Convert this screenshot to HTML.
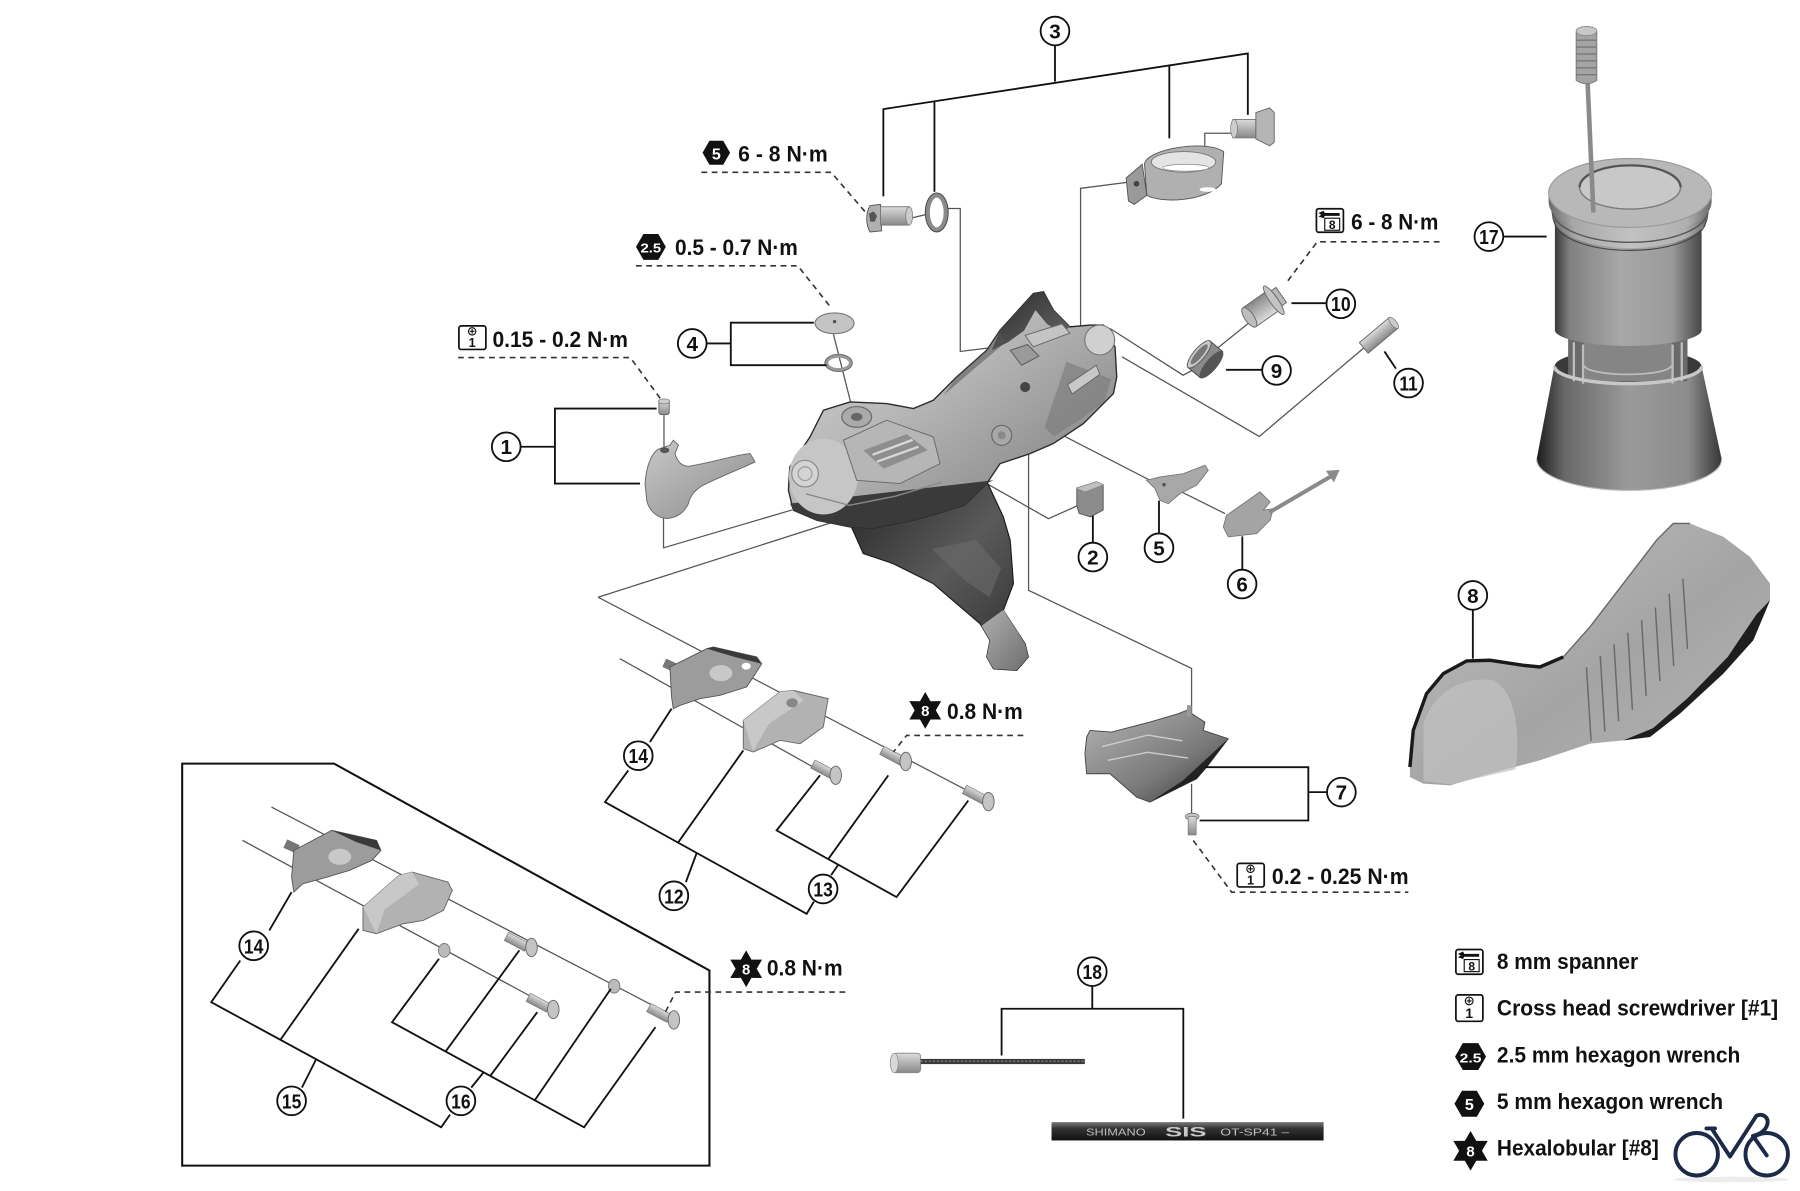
<!DOCTYPE html>
<html><head><meta charset="utf-8"><style>
html,body{margin:0;padding:0;background:#fff;}
svg{display:block;}
.t{font-family:"Liberation Sans",Arial,sans-serif;font-weight:bold;fill:#111;font-size:19px;}
.c circle{fill:#fff;stroke:#111;stroke-width:1.6;}
.c text{font-family:"Liberation Sans",Arial,sans-serif;font-weight:bold;font-size:18px;text-anchor:middle;fill:#111;}
.b{fill:none;stroke:#111;stroke-width:1.6;}
.a{fill:none;stroke:#555;stroke-width:1.1;}
.d{fill:none;stroke:#333;stroke-width:1.4;stroke-dasharray:5 4;}
</style></head><body>
<svg width="1800" height="1191" viewBox="0 0 1568 1037" preserveAspectRatio="none" xmlns="http://www.w3.org/2000/svg">
<defs>
<linearGradient id="gBody" x1="0" y1="0" x2="1" y2="1"><stop offset="0" stop-color="#d8d8d8"/><stop offset=".45" stop-color="#b4b4b4"/><stop offset="1" stop-color="#767676"/></linearGradient>
<linearGradient id="gLever" x1="0" y1="0" x2="1" y2="1"><stop offset="0" stop-color="#262626"/><stop offset=".5" stop-color="#5a5a5a"/><stop offset="1" stop-color="#2c2c2c"/></linearGradient>
<linearGradient id="gTip" x1="0" y1="0" x2="1" y2="1"><stop offset="0" stop-color="#b0b0b0"/><stop offset="1" stop-color="#6e6e6e"/></linearGradient>
<linearGradient id="gMetal" x1="0" y1="0" x2="0" y2="1"><stop offset="0" stop-color="#dcdcdc"/><stop offset="1" stop-color="#888"/></linearGradient>
<linearGradient id="gCyl" x1="0" y1="0" x2="1" y2="0"><stop offset="0" stop-color="#383838"/><stop offset=".1" stop-color="#808080"/><stop offset=".45" stop-color="#a8a8a8"/><stop offset=".8" stop-color="#9a9a9a"/><stop offset="1" stop-color="#464646"/></linearGradient>
<linearGradient id="gCylL" x1="0" y1="0" x2="1" y2="0"><stop offset="0" stop-color="#6a6a6a"/><stop offset=".15" stop-color="#a8a8a8"/><stop offset=".5" stop-color="#c2c2c2"/><stop offset=".85" stop-color="#b0b0b0"/><stop offset="1" stop-color="#6a6a6a"/></linearGradient>
<linearGradient id="gCone" x1="0" y1="0" x2="1" y2="0"><stop offset="0" stop-color="#1c1c1c"/><stop offset=".15" stop-color="#686868"/><stop offset=".5" stop-color="#9a9a9a"/><stop offset=".82" stop-color="#8c8c8c"/><stop offset="1" stop-color="#363636"/></linearGradient>
<linearGradient id="gHood" x1="0" y1="0" x2="1" y2="1"><stop offset="0" stop-color="#6a6a6a"/><stop offset=".25" stop-color="#b4b4b4"/><stop offset=".55" stop-color="#a4a4a4"/><stop offset="1" stop-color="#b6b6b6"/></linearGradient>
<linearGradient id="gHood1" x1="0" y1="0" x2="1" y2="1"><stop offset="0" stop-color="#c8c8c8"/><stop offset="1" stop-color="#8a8a8a"/></linearGradient>
<linearGradient id="gHous" x1="0" y1="0" x2="0" y2="1"><stop offset="0" stop-color="#7a7a7a"/><stop offset=".35" stop-color="#333"/><stop offset="1" stop-color="#111"/></linearGradient>
<linearGradient id="gP7" x1="0" y1="0" x2="1" y2="1"><stop offset="0" stop-color="#b4b4b4"/><stop offset=".6" stop-color="#7a7a7a"/><stop offset="1" stop-color="#333"/></linearGradient>
<linearGradient id="gHorn" x1="0" y1="0" x2="1" y2="1"><stop offset="0" stop-color="#2a2a2a"/><stop offset="1" stop-color="#6a6a6a"/></linearGradient>
</defs>

<!-- ============ assembly thin lines ============ -->
<g class="a">
<path d="M578.4,361.5 L578.4,392"/>
<path d="M578,451 L578,477 L690,444"/>
<path d="M726,291 L745,366"/>
<path d="M521,520 L859,412"/>
<path d="M772,367 L858,411"/>
<path d="M521,520 L842,688"/>
<path d="M540,573.5 L708.5,668"/>
<path d="M793,190 L806,187"/>
<path d="M826,181.5 L836.5,181.5 L836.5,306 L869,302"/>
<path d="M987.7,158 L941.3,164 L941.3,286"/>
<path d="M1073,116 L1049.5,116 L1049.5,148"/>
<path d="M859.5,421 L913.3,451.6 L939.4,440"/>
<path d="M903,367.4 L1001.8,418.2"/>
<path d="M1029.3,428.3 L1067.1,447.2"/>
<path d="M896,396 L896,514 L1038,582 L1038,626"/>
<path d="M1038,682.5 L1038,708.5"/>
<path d="M967,286 L1030.6,326.7 L1044.4,319.4"/>
<path d="M1060,303.5 L1090.8,278.8"/>
<path d="M977.4,310.7 L1097,380 L1188,303"/>
<path d="M236.5,702.7 L582.6,882.7"/>
<path d="M211.2,731.7 L479.6,876.9"/>
</g>

<!-- ============ main body ============ -->
<path d="M740,455 L800,445 L860,420 L874,450 L880,470.5 L882.8,508.2 L874,531.4 L893,560.5 L895.8,572 L885.7,583.7 L865.4,582.3 L859.5,572 L862.4,557.6 L853.7,543 L813,508.2 L778.2,490.8 L752,482 Z" fill="url(#gLever)" stroke="#1a1a1a" stroke-width="1"/>
<path d="M812,478 L850,470 L872,495 L862,520 L840,505 Z" fill="#6a6a6a" opacity=".6"/>
<path d="M855,545 L874,531 L893,560.5 L895.8,572 L885.7,583.7 L865.4,582.3 L859.5,572 L862.4,557.6 Z" fill="url(#gTip)"/>
<path d="M688,406.6 L705.6,380.4 L717.3,357.2 L740.5,350 L772.4,351.4 L795.7,355.7 L813,348.5 L833.4,328.2 L859.5,305 L871.2,287.5 L900.2,255.6 L909,254 L917.6,270 L932,284.6 L949.6,283 L961.2,283 L971.3,302 L972.8,328.2 L969.9,342.7 L943.8,368.8 L917.6,386.2 L897.3,395 L871.2,403.7 L859.5,421 L840,440 L800,452 L760,460 L740.5,458.8 L711.5,453 L691.1,444.3 L686.8,427 Z" fill="url(#gBody)" stroke="#2a2a2a" stroke-width="1.2"/>
<path d="M871.2,287.5 L900.2,255.6 L909,254 L917.6,270 L932,284.6 L924,290 L912,282 L902,270 L892,288 L878,298 L864,305 Z" fill="url(#gHorn)"/>
<path d="M833.4,328.2 L859.5,305 L871.2,287.5 L876,298 L850,320 L822,344 Z" fill="#555" opacity=".55"/>
<ellipse cx="958" cy="296" rx="13" ry="13" fill="#d0d0d0" stroke="#777" stroke-width="1"/>
<path d="M929,315 L968,330 L962,350 L940,366 L918,380 L910,372 Z" fill="#7a7a7a" opacity=".6"/>
<path d="M930,335 L955,318 L958,326 L934,343 Z" fill="#c8c8c8" stroke="#666" stroke-width=".8"/>
<circle cx="893" cy="337" r="4.4" fill="#444"/>
<circle cx="872.6" cy="379" r="8.7" fill="#a8a8a8" stroke="#666" stroke-width="1"/>
<circle cx="872.6" cy="379" r="3.5" fill="#888"/>
<path d="M880,305 L895,300 L905,310 L890,318 Z" fill="#9a9a9a" stroke="#555" stroke-width=".8"/>
<path d="M893,292 L925,282 L932,290 L900,302 Z" fill="#c4c4c4" stroke="#666" stroke-width=".8"/>
<path d="M688.2,438.5 L865.4,418.2 L859.5,421 L840,440 L800,452 L760,460 L740.5,458.8 L711.5,453 L691.1,444.3 Z" fill="#3a3a3a"/>
<ellipse cx="717.3" cy="415" rx="30" ry="33" fill="#c6c6c6"/>
<circle cx="701.3" cy="412.4" r="11.6" fill="#d4d4d4" stroke="#888" stroke-width="1"/>
<circle cx="701.3" cy="412.4" r="6" fill="none" stroke="#999" stroke-width="1"/>
<path d="M734.7,383.3 L772.4,365.9 L813,380.4 L818.9,403.7 L784,421 L746.3,418.2 Z" fill="#b6b6b6" stroke="#666" stroke-width=".8"/>
<path d="M752,392 L790,378 L808,392 L770,408 Z" fill="#8e8e8e"/>
<path d="M760,396 L795,383 M764,402 L800,389" stroke="#d8d8d8" stroke-width="2"/>
<ellipse cx="746.3" cy="363" rx="13" ry="9" fill="#aaa" stroke="#666" stroke-width="1"/>
<ellipse cx="746.3" cy="363" rx="5" ry="3.5" fill="#666"/>
<path d="M702,430 L740,440 L780,432 L820,420" fill="none" stroke="#888" stroke-width="1.2"/>

<!-- ============ part 1 ============ -->
<rect x="574" y="349" width="9" height="12" rx="2" fill="url(#gMetal)" stroke="#666" stroke-width=".8"/>
<ellipse cx="578.5" cy="349.5" rx="5" ry="2.2" fill="#ccc" stroke="#777" stroke-width=".6"/>
<path d="M561.9,421 C563,405 568,393 575,390.6 L583.7,387.6 L586.6,383.3 L591,387.6 L588,395 C590,402 594,406 600,406 C620,403 640,396 653.4,394.9 L657.7,402.2 C650,406 630,414 615.6,421 C606,425 601,432 599.7,438.5 C596,446 590,451 580.8,451.5 C572,451 565,444 563.4,435.6 Z" fill="url(#gHood1)" stroke="#666" stroke-width=".8"/>
<ellipse cx="579" cy="392" rx="4" ry="2.5" fill="#555"/>

<!-- ============ part 4 ============ -->
<ellipse cx="727" cy="281.5" rx="17" ry="9" fill="#c4c4c4" stroke="#777" stroke-width="1"/>
<circle cx="727" cy="280" r="1.5" fill="#555"/>
<ellipse cx="730.5" cy="316" rx="10.5" ry="6" fill="none" stroke="#999" stroke-width="3"/>
<ellipse cx="730.5" cy="316" rx="12" ry="7.5" fill="none" stroke="#666" stroke-width=".8"/>

<!-- ============ part 3 ============ -->
<path d="M758,179 L767,178 L768,201 L758,202 C754,196 754,185 758,179 Z" fill="#b0b0b0" stroke="#555" stroke-width=".8"/>
<polygon points="757,186 761,184 764,188 762,193 758,193" fill="#555"/>
<rect x="767" y="180" width="25" height="16" fill="url(#gMetal)" stroke="#777" stroke-width=".8"/>
<ellipse cx="792" cy="188" rx="3" ry="8" fill="#ccc" stroke="#777" stroke-width=".6"/>
<ellipse cx="816" cy="185" rx="8" ry="15" fill="none" stroke="#8a8a8a" stroke-width="4"/>
<ellipse cx="816" cy="185" rx="10" ry="17" fill="none" stroke="#444" stroke-width=".8"/>
<path d="M997,143 C998,130 1050,121 1066,132 L1064,160 C1050,176 1010,177 999,170 Z" fill="#b0b0b0" stroke="#555" stroke-width=".8"/>
<ellipse cx="1031" cy="141" rx="28" ry="9" fill="#e4e4e4" stroke="#777" stroke-width=".8"/>
<ellipse cx="1033" cy="146" rx="20" ry="3" fill="#fff" stroke="#888" stroke-width=".6"/>
<ellipse cx="1052" cy="165" rx="7" ry="2" fill="#fff"/>
<path d="M981,155 L995,143 L999,170 L988,178 L983,175 Z" fill="#9a9a9a" stroke="#555" stroke-width=".8"/>
<circle cx="990" cy="160" r="2.5" fill="#444"/>
<rect x="1074" y="104" width="20" height="16" fill="url(#gMetal)" stroke="#777" stroke-width=".8"/>
<ellipse cx="1075" cy="112" rx="3" ry="8" fill="#ccc" stroke="#777" stroke-width=".6"/>
<path d="M1094,98 L1106,94 L1110,98 L1110,124 L1106,127 L1094,121 Z" fill="#b5b5b5" stroke="#666" stroke-width=".8"/>

<!-- ============ parts 9,10,11 ============ -->
<g transform="translate(1103,266) rotate(145)">
<rect x="-8" y="-10" width="26" height="20" fill="url(#gMetal)" stroke="#666" stroke-width=".8"/>
<ellipse cx="18" cy="0" rx="4" ry="10" fill="#bdbdbd" stroke="#666" stroke-width=".8"/>
<rect x="-16" y="-8" width="8" height="16" fill="#b8b8b8" stroke="#666" stroke-width=".8"/>
<ellipse cx="-8" cy="0" rx="3.5" ry="15" fill="#c4c4c4" stroke="#666" stroke-width=".8"/>
</g>
<g transform="translate(1050,313) rotate(40)">
<rect x="-7" y="-15" width="14" height="30" fill="#8a8a8a" stroke="#444" stroke-width=".8"/>
<ellipse cx="-7" cy="0" rx="5" ry="15" fill="#c8c8c8" stroke="#555" stroke-width=".8"/>
<ellipse cx="-7" cy="0" rx="3" ry="11" fill="#777"/>
<ellipse cx="7" cy="0" rx="5" ry="15" fill="#555"/>
</g>
<g transform="translate(1201,292) rotate(-40)">
<rect x="-17" y="-6" width="34" height="12" fill="url(#gMetal)" stroke="#666" stroke-width=".8"/>
<ellipse cx="17" cy="0" rx="2.5" ry="6" fill="#ccc" stroke="#777" stroke-width=".6"/>
</g>

<!-- ============ parts 2,5,6 ============ -->
<path d="M938,425 L955,419.6 L961,422 L961,444 L950,450 L940,447 L938,440 Z" fill="#8c8c8c" stroke="#555" stroke-width=".8"/>
<path d="M938,425 L955,419.6 L961,422 L945,428 Z" fill="#c0c0c0"/>
<polygon points="998.8,418.2 1010.4,415.3 1030.8,412.4 1049.6,405.1 1052.5,409.5 1042.4,422.5 1027.9,429.8 1017.7,438.5 1010.4,435.6 1006.1,425.4" fill="#a8a8a8" stroke="#777" stroke-width=".8"/>
<circle cx="1014" cy="422" r="1.6" fill="#555"/>
<polygon points="1068.5,448.7 1097.6,428.3 1106.3,437 1100.5,444.3 1109.2,442.9 1106.3,453 1094.7,464.6 1070,467.5 1065.6,458.8" fill="#a4a4a4" stroke="#777" stroke-width=".8"/>
<line x1="1106" y1="446" x2="1159" y2="415" stroke="#8a8a8a" stroke-width="3.5"/>
<polygon points="1155,410 1167,409 1162,420" fill="#8a8a8a"/>

<!-- ============ part 7 ============ -->
<polygon points="946.6,641.8 949.5,636 968.3,637.4 1001.7,628.7 1026.4,621.4 1033.7,618.5 1049.6,628.7 1048.2,636 1070,643.2 1051.1,668 1042.4,678.1 1016.3,691.1 1001.7,698.4 990.1,694 966.9,673.7 946.6,673.7 945.1,656.3" fill="url(#gP7)" stroke="#444" stroke-width=".8"/>
<path d="M1070,643.2 L1051.1,668 L1042.4,678.1 L1016.3,691.1 L1001.7,698.4 L1030,680 Z" fill="#222"/>
<path d="M960,650 L1000,640 L1030,645 M965,662 L1000,655 L1035,660" stroke="#ccc" stroke-width="1.2" fill="none"/>
<rect x="1034" y="614" width="4" height="10" fill="#999"/>
<ellipse cx="1038.5" cy="711" rx="6" ry="3" fill="#c4c4c4" stroke="#666" stroke-width=".6"/>
<rect x="1035" y="711" width="7" height="16" fill="url(#gMetal)" stroke="#777" stroke-width=".6"/>

<!-- ============ part 17 ============ -->
<path d="M1354,319 L1338.6,400 A80.6,27 0 0 0 1499.8,400 L1482.3,319 Z" fill="url(#gCone)"/>
<path d="M1338.6,400 A80.6,27 0 0 0 1499.8,400" fill="none" stroke="#bbb" stroke-width="1"/>
<ellipse cx="1418.2" cy="319" rx="64" ry="15" fill="#3a3a3a"/>
<rect x="1366" y="290" width="104" height="42" fill="#6a6a6a"/>
<rect x="1380" y="294" width="76" height="38" fill="#858585"/>
<path d="M1380,318 A38,8 0 0 0 1456,318" fill="none" stroke="#bdbdbd" stroke-width="1.5"/>
<path d="M1371,298 L1371,332 M1379,300 L1379,334 M1457,300 L1457,334 M1465,298 L1465,332" stroke="#bdbdbd" stroke-width="2"/>
<path d="M1354.2,319 A64,15 0 0 0 1482.3,319" fill="none" stroke="#c8c8c8" stroke-width="3"/>
<path d="M1354.5,190 L1354.5,288 A64,14 0 0 0 1482.3,288 L1482.3,190 Z" fill="url(#gCyl)"/>
<path d="M1352,178 L1352,188 A68,28 0 0 0 1488,188 L1488,178 Z" fill="url(#gCylL)"/>
<path d="M1352,183 A68,28 0 0 0 1488,183" fill="none" stroke="#555" stroke-width="1.2"/>
<path d="M1354,192 A66,26 0 0 0 1486,192" fill="none" stroke="#444" stroke-width="1"/>
<path d="M1349,168 L1349,176 A71,30 0 0 0 1491,176 L1491,168 Z" fill="url(#gCylL)"/>
<ellipse cx="1420" cy="168" rx="71" ry="30" fill="#b8b8b8" stroke="#9a9a9a" stroke-width="1"/>
<ellipse cx="1420" cy="163" rx="44" ry="19" fill="#c8c8c8" stroke="#7a7a7a" stroke-width="1.2"/>
<path d="M1376,163 A44,19 0 0 1 1464,163" fill="none" stroke="#555" stroke-width="2"/>
<line x1="1383" y1="72" x2="1388" y2="185" stroke="#8a8a8a" stroke-width="4"/>
<path d="M1373,28 L1373,70 Q1382,76 1391,70 L1391,28 Z" fill="#a4a4a4" stroke="#777" stroke-width=".8"/>
<path d="M1373,35 H1391 M1373,41 H1391 M1373,47 H1391 M1373,53 H1391 M1373,59 H1391 M1373,65 H1391" stroke="#787878" stroke-width="1.2"/>
<ellipse cx="1382" cy="27" rx="9" ry="4" fill="#c8c8c8" stroke="#888" stroke-width=".8"/>

<!-- ============ part 8 ============ -->
<path d="M1228.2,667.8 L1231.1,635.9 L1242.7,603.9 L1257.3,586.5 L1277.6,575.5 L1297.9,574.9 L1327,579.3 L1341.5,580.7 L1361.8,572 L1385,545.9 L1414.1,508.1 L1443.1,470.3 L1457.6,455.8 L1472.2,455.8 L1501.2,467.4 L1524.4,484.9 L1541.9,508.1 L1541.9,522.6 L1527.3,557.5 L1501.2,586.5 L1463.4,621.4 L1437.3,641.7 L1414.1,644.6 L1385,647.5 L1341.5,662 L1297.9,673.6 L1263.1,683.8 L1239.8,682.3 L1228.2,676.5 Z" fill="url(#gHood)"/>
<path d="M1541.9,522.6 L1527.3,557.5 L1501.2,586.5 L1463.4,621.4 L1437.3,641.7 L1414.1,644.6 L1440,634 L1470,608 L1505,572 L1530,535 Z" fill="#1e1e1e"/>
<path d="M1228.2,667.8 L1231.1,635.9 L1242.7,603.9 L1257.3,586.5 L1277.6,575.5 L1297.9,574.9 L1327,579.3 L1341.5,580.7 L1361.8,572" fill="none" stroke="#1a1a1a" stroke-width="3"/>
<path d="M1361.8,572 L1385,545.9 L1414.1,508.1 L1443.1,470.3 L1457.6,455.8 L1472.2,455.8" fill="none" stroke="#666" stroke-width="1.2"/>
<path d="M1240,630 C1250,600 1275,590 1300,592 C1320,600 1325,640 1320,670 L1263,683 L1240,680 Z" fill="#c2c2c2" opacity=".7"/>
<g stroke="#6a6a6a" stroke-width="1.3" fill="none">
<path d="M1382,581 L1386,645"/><path d="M1394,571 L1398,637"/><path d="M1406,561 L1410,628"/><path d="M1418,551 L1422,618"/><path d="M1430,540 L1434,606"/><path d="M1442,529 L1446,593"/><path d="M1454,517 L1458,580"/><path d="M1466,504 L1470,565"/>
</g>

<!-- ============ parts 12,13,14 (upper) ============ -->
<rect x="578" y="576" width="14" height="8" fill="#777" transform="rotate(25 585 580)"/>
<polygon points="583.6,580.8 615.6,564.8 621.4,563.3 659.1,572 663.5,577.9 656.2,589.5 650.4,598.2 627.2,605.4 609.7,608.3 592.3,614.2 586.5,617 585,606.9" fill="#9c9c9c" stroke="#555" stroke-width=".8"/>
<polygon points="615.6,564.8 621.4,563.3 659.1,572 663.5,577.9 640,572" fill="#3a3a3a"/>
<ellipse cx="628" cy="586" rx="10" ry="7" fill="#c8c8c8"/>
<ellipse cx="650" cy="580" rx="4" ry="3" fill="#fff"/>
<polygon points="647.5,627.2 679.4,602.5 691.1,601.1 721.5,608.3 720.1,615.6 717.2,633 696.9,647.6 679.4,644.6 656.2,654.8 647.5,651.9" fill="#b2b2b2" stroke="#666" stroke-width=".8"/>
<polygon points="647.5,627.2 679.4,602.5 691.1,601.1 700,610 670,630 656,654" fill="#c8c8c8"/>
<ellipse cx="690" cy="612" rx="5" ry="4" fill="#888"/>
<g>
<rect x="707" y="666" width="20" height="8" fill="url(#gMetal)" stroke="#777" stroke-width=".6" transform="rotate(28 717 670)"/>
<ellipse cx="728" cy="675" rx="5" ry="8" fill="#c4c4c4" stroke="#666" stroke-width=".8"/>
<rect x="767" y="654" width="20" height="8" fill="url(#gMetal)" stroke="#777" stroke-width=".6" transform="rotate(28 777 658)"/>
<ellipse cx="789" cy="663" rx="5" ry="8" fill="#c4c4c4" stroke="#666" stroke-width=".8"/>
<rect x="839" y="688" width="20" height="8" fill="url(#gMetal)" stroke="#777" stroke-width=".6" transform="rotate(28 849 692)"/>
<ellipse cx="861" cy="698" rx="5" ry="8" fill="#c4c4c4" stroke="#666" stroke-width=".8"/>
</g>

<!-- ============ box group ============ -->
<path d="M158.7,664.9 L291,664.9 L618,845 L618,1014.9 L158.7,1014.9 Z" fill="none" stroke="#111" stroke-width="1.8"/>
<rect x="248" y="733" width="12" height="8" fill="#777" transform="rotate(25 254 737)"/>
<polygon points="256,740.4 289,723 328,731.7 331.8,740.4 324,749.1 304.6,757.8 285.1,763.7 263.7,769.5 256,776.7 254,763.7" fill="#9c9c9c" stroke="#555" stroke-width=".8"/>
<polygon points="289,723 328,731.7 331.8,740.4 310,733" fill="#3a3a3a"/>
<ellipse cx="296" cy="746" rx="10" ry="7" fill="#c8c8c8"/>
<polygon points="316.2,789.8 347.4,762.2 359,759.3 390.1,768 394,775.3 386.3,792.7 368.7,801.4 351.3,804.3 327.9,813 316.2,810.1" fill="#b2b2b2" stroke="#666" stroke-width=".8"/>
<polygon points="316.2,789.8 347.4,762.2 359,759.3 365,770 335,792 327.9,813" fill="#c8c8c8"/>
<ellipse cx="387" cy="827.5" rx="5" ry="6" fill="#bbb" stroke="#777" stroke-width=".8"/>
<ellipse cx="535" cy="858.7" rx="5" ry="6" fill="#bbb" stroke="#777" stroke-width=".8"/>
<rect x="440" y="816" width="20" height="8" fill="url(#gMetal)" stroke="#777" stroke-width=".6" transform="rotate(28 450 820)"/>
<ellipse cx="463" cy="825" rx="5" ry="8" fill="#c4c4c4" stroke="#666" stroke-width=".8"/>
<rect x="459" y="869" width="20" height="8" fill="url(#gMetal)" stroke="#777" stroke-width=".6" transform="rotate(28 469 873)"/>
<ellipse cx="482" cy="879" rx="5" ry="8" fill="#c4c4c4" stroke="#666" stroke-width=".8"/>
<rect x="564" y="878" width="20" height="8" fill="url(#gMetal)" stroke="#777" stroke-width=".6" transform="rotate(28 574 882)"/>
<ellipse cx="587" cy="888" rx="5" ry="8" fill="#c4c4c4" stroke="#666" stroke-width=".8"/>

<!-- ============ part 18 ============ -->
<rect x="778" y="917" width="24" height="17" rx="3" fill="url(#gMetal)" stroke="#888" stroke-width=".8"/>
<ellipse cx="779" cy="925.5" rx="3.5" ry="8.5" fill="#d8d8d8" stroke="#888" stroke-width=".6"/>
<rect x="802" y="922" width="143" height="4.5" fill="#3a3a3a"/>
<line x1="802" y1="924" x2="945" y2="924" stroke="#888" stroke-width="1" stroke-dasharray="2 1.5"/>
<rect x="916" y="977" width="237" height="16" fill="url(#gHous)"/>
<text x="946" y="988.5" font-family="Liberation Sans, Arial, sans-serif" font-size="9" fill="#bdbdbd" textLength="52" lengthAdjust="spacingAndGlyphs">SHIMANO</text>
<text x="1015" y="989.5" font-family="Liberation Sans, Arial, sans-serif" font-weight="bold" font-size="12" fill="#c8c8c8" textLength="36" lengthAdjust="spacingAndGlyphs">SIS</text>
<text x="1063" y="988.5" font-family="Liberation Sans, Arial, sans-serif" font-size="9" fill="#bdbdbd" textLength="60" lengthAdjust="spacingAndGlyphs">OT-SP41 –</text>

<!-- ============ brackets ============ -->
<g class="b">
<path d="M919,39.5 L919,71"/>
<path d="M769.5,171 L769.5,95 L1087,46.5 L1087,100"/>
<path d="M814,88.2 L814,167"/>
<path d="M1018.6,57 L1018.6,120.5"/>
<path d="M615.5,299 L636.6,299"/>
<path d="M709,281 L636.6,281 L636.6,318 L720,318"/>
<path d="M453.5,389 L483.4,389"/>
<path d="M572,355.7 L483.4,355.7 L483.4,421 L557.5,421"/>
<path d="M952,449 L952,472.5"/>
<path d="M1009.6,436 L1009.6,464.5"/>
<path d="M1082.2,467 L1082.2,496"/>
<path d="M1283,531 L1283,573.5"/>
<path d="M1049.6,668 L1139.7,668 L1139.7,714.4 L1045,714.4"/>
<path d="M1139.7,689.7 L1155.5,689.7"/>
<path d="M1068,322 L1099.5,322"/>
<path d="M1125,264 L1155.5,264"/>
<path d="M1206,306 L1216,321"/>
<path d="M1309.5,206 L1347.3,206"/>
<path d="M951.5,858.5 L951.5,878.3"/>
<path d="M872.5,919 L872.5,878.3 L1030.8,878.3 L1030.8,974"/>
<path d="M566.2,646.1 L585,617"/>
<path d="M547.3,670.8 L527,698.4 L702.7,795.7 L709,785"/>
<path d="M590.9,733.3 L647.5,653.4"/>
<path d="M606.9,742.7 L597.5,768"/>
<path d="M714.3,675.1 L676.5,723 L781,781.1 L843.5,697"/>
<path d="M721.5,748 L773.8,675.1"/>
<path d="M730.3,752.8 L724,762"/>
<path d="M234.6,810.1 L254,776.7"/>
<path d="M209.3,836.3 L184,872.6 L384.3,981.5 L392,970.5"/>
<path d="M244.3,905.3 L312.4,808.7"/>
<path d="M275.4,922.3 L263,947"/>
<path d="M382.4,834.8 L341.5,890 L508.8,981.5 L571,894.3"/>
<path d="M388.2,915.5 L452.4,827.5"/>
<path d="M427.1,936.8 L468,881.3"/>
<path d="M466,957.8 L532.1,861"/>
<path d="M421.3,933.6 L410.5,947"/>
</g>

<!-- ============ dashed leaders ============ -->
<g class="d">
<path d="M611,150 L724,150 L755,186"/>
<path d="M554,231.4 L695,231.4 L724,268"/>
<path d="M399,311.3 L549,311.3 L576,348"/>
<path d="M1254,210.5 L1147.5,210.5 L1120,247"/>
<path d="M891.4,640.3 L789.8,640.3 L778.2,654.8"/>
<path d="M736.3,863.8 L588.5,863.8 L578.8,882.7"/>
<path d="M1039.5,731.8 L1072.9,776.8 L1226.8,776.8"/>
</g>

<!-- ============ torque labels ============ -->
<polygon points="612,133 618,122.6 630,122.6 636,133 630,143.4 618,143.4" fill="#111"/>
<text x="624" y="139" text-anchor="middle" font-family="Liberation Sans, Arial, sans-serif" font-weight="bold" font-size="14" fill="#fff">5</text>
<text class="t" x="643" y="140.5" textLength="78" lengthAdjust="spacingAndGlyphs">6 - 8 N·m</text>

<polygon points="554,215 560.5,203.7 573.5,203.7 580,215 573.5,226.3 560.5,226.3" fill="#111"/>
<text x="567" y="220" text-anchor="middle" font-family="Liberation Sans, Arial, sans-serif" font-weight="bold" font-size="11" fill="#fff" textLength="18" lengthAdjust="spacingAndGlyphs">2.5</text>
<text class="t" x="588" y="222" textLength="107" lengthAdjust="spacingAndGlyphs">0.5 - 0.7 N·m</text>

<g transform="translate(399,283)">
<rect x=".75" y=".75" width="23.5" height="20.5" rx="2" fill="#fff" stroke="#111" stroke-width="1.5"/>
<circle cx="12.3" cy="5.5" r="3.2" fill="none" stroke="#111" stroke-width="1"/>
<path d="M12.3,3.4 V7.6 M10.2,5.5 H14.4" stroke="#111" stroke-width="1"/>
<text x="12.3" y="19" text-anchor="middle" font-family="Liberation Sans, Arial, sans-serif" font-weight="bold" font-size="11" fill="#111">1</text>
</g>
<text class="t" x="429" y="302" textLength="118" lengthAdjust="spacingAndGlyphs">0.15 - 0.2 N·m</text>

<g transform="translate(1146,181)">
<rect x=".75" y=".75" width="23.5" height="20.5" rx="2" fill="#fff" stroke="#111" stroke-width="1.5"/>
<path d="M2.5,4.5 L7,2.5 L8,4.5 L21,4.5 L21,7 L8,7 L7,9 L2.5,7.5 L5,6 Z" fill="#111"/>
<rect x="8" y="9" width="13" height="10.5" fill="none" stroke="#111" stroke-width="1"/>
<text x="14.5" y="18.5" text-anchor="middle" font-family="Liberation Sans, Arial, sans-serif" font-weight="bold" font-size="10.5" fill="#111">8</text>
</g>
<text class="t" x="1177" y="200" textLength="76" lengthAdjust="spacingAndGlyphs">6 - 8 N·m</text>

<polygon transform="translate(806,618.5)" points="0,-16 4.6,-7.97 13.86,-8 9.2,0 13.86,8 4.6,7.97 0,16 -4.6,7.97 -13.86,8 -9.2,0 -13.86,-8 -4.6,-7.97" fill="#111"/>
<text x="806" y="623.5" text-anchor="middle" font-family="Liberation Sans, Arial, sans-serif" font-weight="bold" font-size="13" fill="#fff">8</text>
<text class="t" x="825" y="626" textLength="66" lengthAdjust="spacingAndGlyphs">0.8 N·m</text>

<polygon transform="translate(650,843.5)" points="0,-16 4.6,-7.97 13.86,-8 9.2,0 13.86,8 4.6,7.97 0,16 -4.6,7.97 -13.86,8 -9.2,0 -13.86,-8 -4.6,-7.97" fill="#111"/>
<text x="650" y="848.5" text-anchor="middle" font-family="Liberation Sans, Arial, sans-serif" font-weight="bold" font-size="13" fill="#fff">8</text>
<text class="t" x="668" y="849.5" textLength="66" lengthAdjust="spacingAndGlyphs">0.8 N·m</text>

<g transform="translate(1077,751)">
<rect x=".75" y=".75" width="23.5" height="20.5" rx="2" fill="#fff" stroke="#111" stroke-width="1.5"/>
<circle cx="12.3" cy="5.5" r="3.2" fill="none" stroke="#111" stroke-width="1"/>
<path d="M12.3,3.4 V7.6 M10.2,5.5 H14.4" stroke="#111" stroke-width="1"/>
<text x="12.3" y="19" text-anchor="middle" font-family="Liberation Sans, Arial, sans-serif" font-weight="bold" font-size="11" fill="#111">1</text>
</g>
<text class="t" x="1108" y="769.5" textLength="119" lengthAdjust="spacingAndGlyphs">0.2 - 0.25 N·m</text>

<!-- ============ circled numbers ============ -->
<g class="c">
<circle cx="441" cy="389" r="12.5"/><text x="441" y="395.5">1</text>
<circle cx="952" cy="485" r="12.5"/><text x="952" y="491.5">2</text>
<circle cx="919" cy="27" r="12.5"/><text x="919" y="33.5">3</text>
<circle cx="603" cy="299" r="12.5"/><text x="603" y="305.5">4</text>
<circle cx="1009.6" cy="477" r="12.5"/><text x="1009.6" y="483.5">5</text>
<circle cx="1082" cy="508.5" r="12.5"/><text x="1082" y="515">6</text>
<circle cx="1168.5" cy="689.7" r="12.5"/><text x="1168.5" y="696.2">7</text>
<circle cx="1283" cy="518.4" r="12.5"/><text x="1283" y="524.9">8</text>
<circle cx="1112" cy="322.5" r="12.5"/><text x="1112" y="329">9</text>
<circle cx="1168" cy="264.5" r="12.5"/><text x="1168" y="271" textLength="17" lengthAdjust="spacingAndGlyphs">10</text>
<circle cx="1227" cy="333.5" r="12.5"/><text x="1227" y="340" textLength="16" lengthAdjust="spacingAndGlyphs">11</text>
<circle cx="587" cy="780" r="12.5"/><text x="587" y="786.5" textLength="17" lengthAdjust="spacingAndGlyphs">12</text>
<circle cx="717" cy="774" r="12.5"/><text x="717" y="780.5" textLength="17" lengthAdjust="spacingAndGlyphs">13</text>
<circle cx="556" cy="658" r="12.5"/><text x="556" y="664.5" textLength="17" lengthAdjust="spacingAndGlyphs">14</text>
<circle cx="221" cy="823.5" r="12.5"/><text x="221" y="830" textLength="17" lengthAdjust="spacingAndGlyphs">14</text>
<circle cx="254" cy="958.5" r="12.5"/><text x="254" y="965" textLength="17" lengthAdjust="spacingAndGlyphs">15</text>
<circle cx="401.5" cy="958.5" r="12.5"/><text x="401.5" y="965" textLength="17" lengthAdjust="spacingAndGlyphs">16</text>
<circle cx="1297" cy="206" r="12.5"/><text x="1297" y="212.5" textLength="17" lengthAdjust="spacingAndGlyphs">17</text>
<circle cx="951.5" cy="846" r="12.5"/><text x="951.5" y="852.5" textLength="17" lengthAdjust="spacingAndGlyphs">18</text>
</g>

<!-- ============ legend ============ -->
<g transform="translate(1267.5,826)">
<rect x=".75" y=".75" width="23.5" height="21.5" rx="2" fill="#fff" stroke="#111" stroke-width="1.5"/>
<path d="M2.5,4.5 L7,2.5 L8,4.5 L21,4.5 L21,7 L8,7 L7,9 L2.5,7.5 L5,6 Z" fill="#111"/>
<rect x="8" y="9.5" width="13" height="10.5" fill="none" stroke="#111" stroke-width="1"/>
<text x="14.5" y="19" text-anchor="middle" font-family="Liberation Sans, Arial, sans-serif" font-weight="bold" font-size="10.5" fill="#111">8</text>
</g>
<text class="t" x="1304" y="843.5" textLength="123" lengthAdjust="spacingAndGlyphs">8 mm spanner</text>

<g transform="translate(1267.5,865.5)">
<rect x=".75" y=".75" width="23.5" height="23" rx="2" fill="#fff" stroke="#111" stroke-width="1.5"/>
<circle cx="12.3" cy="6" r="3.4" fill="none" stroke="#111" stroke-width="1"/>
<path d="M12.3,3.8 V8.2 M10.1,6 H14.5" stroke="#111" stroke-width="1"/>
<text x="12.3" y="21" text-anchor="middle" font-family="Liberation Sans, Arial, sans-serif" font-weight="bold" font-size="12" fill="#111">1</text>
</g>
<text class="t" x="1304" y="884" textLength="245" lengthAdjust="spacingAndGlyphs">Cross head screwdriver [#1]</text>

<polygon points="1267.5,920 1274.25,908.3 1287.75,908.3 1294.5,920 1287.75,931.7 1274.25,931.7" fill="#111"/>
<text x="1281" y="925" text-anchor="middle" font-family="Liberation Sans, Arial, sans-serif" font-weight="bold" font-size="11.5" fill="#fff" textLength="19" lengthAdjust="spacingAndGlyphs">2.5</text>
<text class="t" x="1304" y="925" textLength="212" lengthAdjust="spacingAndGlyphs">2.5 mm hexagon wrench</text>

<polygon points="1267,961 1273.5,949.7 1286.5,949.7 1293,961 1286.5,972.3 1273.5,972.3" fill="#111"/>
<text x="1280" y="966.5" text-anchor="middle" font-family="Liberation Sans, Arial, sans-serif" font-weight="bold" font-size="14" fill="#fff">5</text>
<text class="t" x="1304" y="965.5" textLength="197" lengthAdjust="spacingAndGlyphs">5 mm hexagon wrench</text>

<polygon transform="translate(1281,1002) scale(1.08)" points="0,-16 4.6,-7.97 13.86,-8 9.2,0 13.86,8 4.6,7.97 0,16 -4.6,7.97 -13.86,8 -9.2,0 -13.86,-8 -4.6,-7.97" fill="#111"/>
<text x="1281" y="1007" text-anchor="middle" font-family="Liberation Sans, Arial, sans-serif" font-weight="bold" font-size="13" fill="#fff">8</text>
<text class="t" x="1304" y="1006" textLength="141" lengthAdjust="spacingAndGlyphs">Hexalobular [#8]</text>

<!-- bike logo -->
<ellipse cx="1508" cy="1027" rx="50" ry="2.5" fill="#ececec"/>
<g fill="none" stroke="#1c2a48" stroke-width="3.4" stroke-linecap="round" stroke-linejoin="round">
<circle cx="1478" cy="1005" r="18.5"/>
<circle cx="1539" cy="1005" r="18.5"/>
<path d="M1486.5,982.5 L1494,982.5 M1491,982.5 L1507,1007 L1530,971.5 C1536,969 1541,973 1539.5,979 C1538,985 1532,988 1527,989 L1539,1006"/>
</g>
</svg>
</body></html>
